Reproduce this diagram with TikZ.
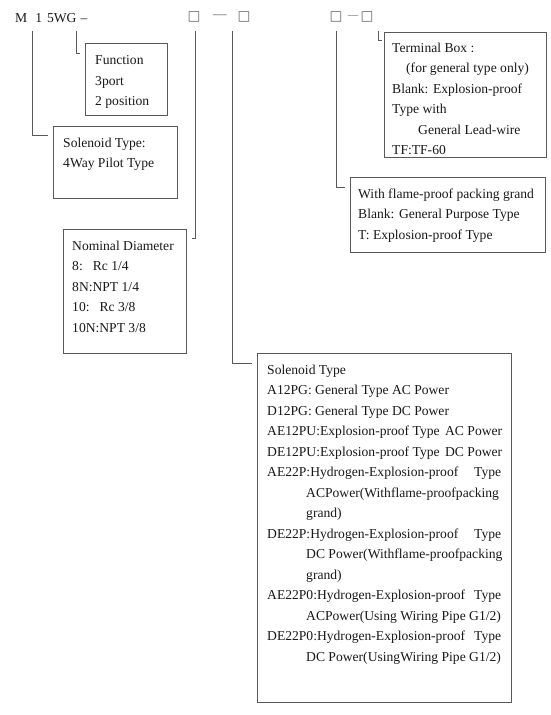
\documentclass[tikz,border=0pt]{standalone}
\usepackage{fontspec}
\setmainfont{Liberation Serif}
\newfontfamily\symfont{DejaVu Sans}
\begin{document}
\begin{tikzpicture}[x=1pt,y=-1pt,
  box/.style={draw=black!65, line width=0.8pt, inner sep=0pt, anchor=north west},
  conn/.style={draw=black!65, line width=0.8pt},
  txt/.style={font=\fontsize{13.6}{20.5}\selectfont, align=left, inner sep=0pt, anchor=north west, text=black!90},
  top/.style={font=\fontsize{13.6}{16}\selectfont, inner sep=0pt, text=black!90},
  sq/.style={font=\symfont\fontsize{13.6}{16}\selectfont, inner sep=0pt, text=black!60}]
\useasboundingbox (0,0) rectangle (551,715);

% top row
\node[top, anchor=base west] (code) at (15,22) {M\hspace{8pt}1\hspace{5pt}5WG\hspace{4pt}–};
\node[sq] (s1) at (194,17) {□};
\node[top, text=black!60] (d1) at (220,17) {—};
\node[sq] (s2) at (244,17) {□};
\node[sq] (s3) at (336,17) {□};
\node[top, text=black!60, font=\fontsize{10.5}{12}\selectfont] (d2) at (353,17) {—};
\node[sq] (s4) at (367,17) {□};

% boxes
\node[box, minimum width=82, minimum height=72] (fbox) at (85,43) {};
\node[box, minimum width=124, minimum height=72] (sbox) at (53,126) {};
\node[box, minimum width=123, minimum height=124] (nbox) at (63,229) {};
\node[box, minimum width=162, minimum height=125] (tbox) at (384,32) {};
\node[box, minimum width=195, minimum height=75] (flbox) at (350,177) {};
\node[box, minimum width=254, minimum height=349] (bbox) at (257,353) {};

% texts
\node[txt] (ftxt) at (95,55.5) {Function\\3port\\2 position};
\node[txt] (stxt) at (63,137.5) {Solenoid Type:\\4Way Pilot Type};
\node[txt] (ntxt) at (72,240.5) {Nominal Diameter\\8:\hspace{10pt}Rc 1/4\\8N:NPT 1/4\\10:\hspace{10pt}Rc 3/8\\10N:NPT 3/8};
\node[txt] (ttxt) at (392,42.5) {Terminal Box :\\\hspace*{14pt}(for general type only)\\Blank: Explosion-proof\\Type with\\\hspace*{26pt}General Lead-wire\\TF:TF-60};
\node[txt] (fltxt) at (358,188.5) {With flame-proof packing grand\\Blank: General Purpose Type\\T: Explosion-proof Type};
\node[txt] (btxt) at (267,364.5) {Solenoid Type\\
A12PG: General Type AC Power\\
D12PG: General Type DC Power\\
\makebox[235pt][l]{AE12PU:Explosion-proof Type\hfill AC Power}\\
\makebox[235pt][l]{DE12PU:Explosion-proof Type\hfill DC Power}\\
\makebox[234pt][l]{AE22P:Hydrogen-Explosion-proof\hfill Type}\\
\hspace*{39pt}ACPower(Withflame-proofpacking\\
\hspace*{39pt}grand)\\
\makebox[234pt][l]{DE22P:Hydrogen-Explosion-proof\hfill Type}\\
\hspace*{39pt}DC Power(Withflame-proofpacking\\
\hspace*{39pt}grand)\\
\makebox[234pt][l]{AE22P0:Hydrogen-Explosion-proof\hfill Type}\\
\hspace*{39pt}ACPower(Using Wiring Pipe G1/2)\\
\makebox[234pt][l]{DE22P0:Hydrogen-Explosion-proof\hfill Type}\\
\hspace*{39pt}DC Power(UsingWiring Pipe G1/2)};

% connector coordinates
\coordinate (a0) at (32,31);   \coordinate (a1) at (48,135);
\coordinate (f0) at (76,31);   \coordinate (f1) at (80,53);
\coordinate (b0) at (195,31);  \coordinate (b1) at (192,238);
\coordinate (c0) at (232,31);  \coordinate (c1) at (252,363);
\coordinate (e0) at (336,31);  \coordinate (e1) at (345,187);
\coordinate (t0) at (378,31);  \coordinate (t1) at (382,40);

\draw[conn] (a0) |- (a1);
\draw[conn] (f0) |- (f1);
\draw[conn] (b0) |- (b1);
\draw[conn] (c0) |- (c1);
\draw[conn] (e0) |- (e1);
\draw[conn] (t0) |- (t1);
\end{tikzpicture}
\end{document}
